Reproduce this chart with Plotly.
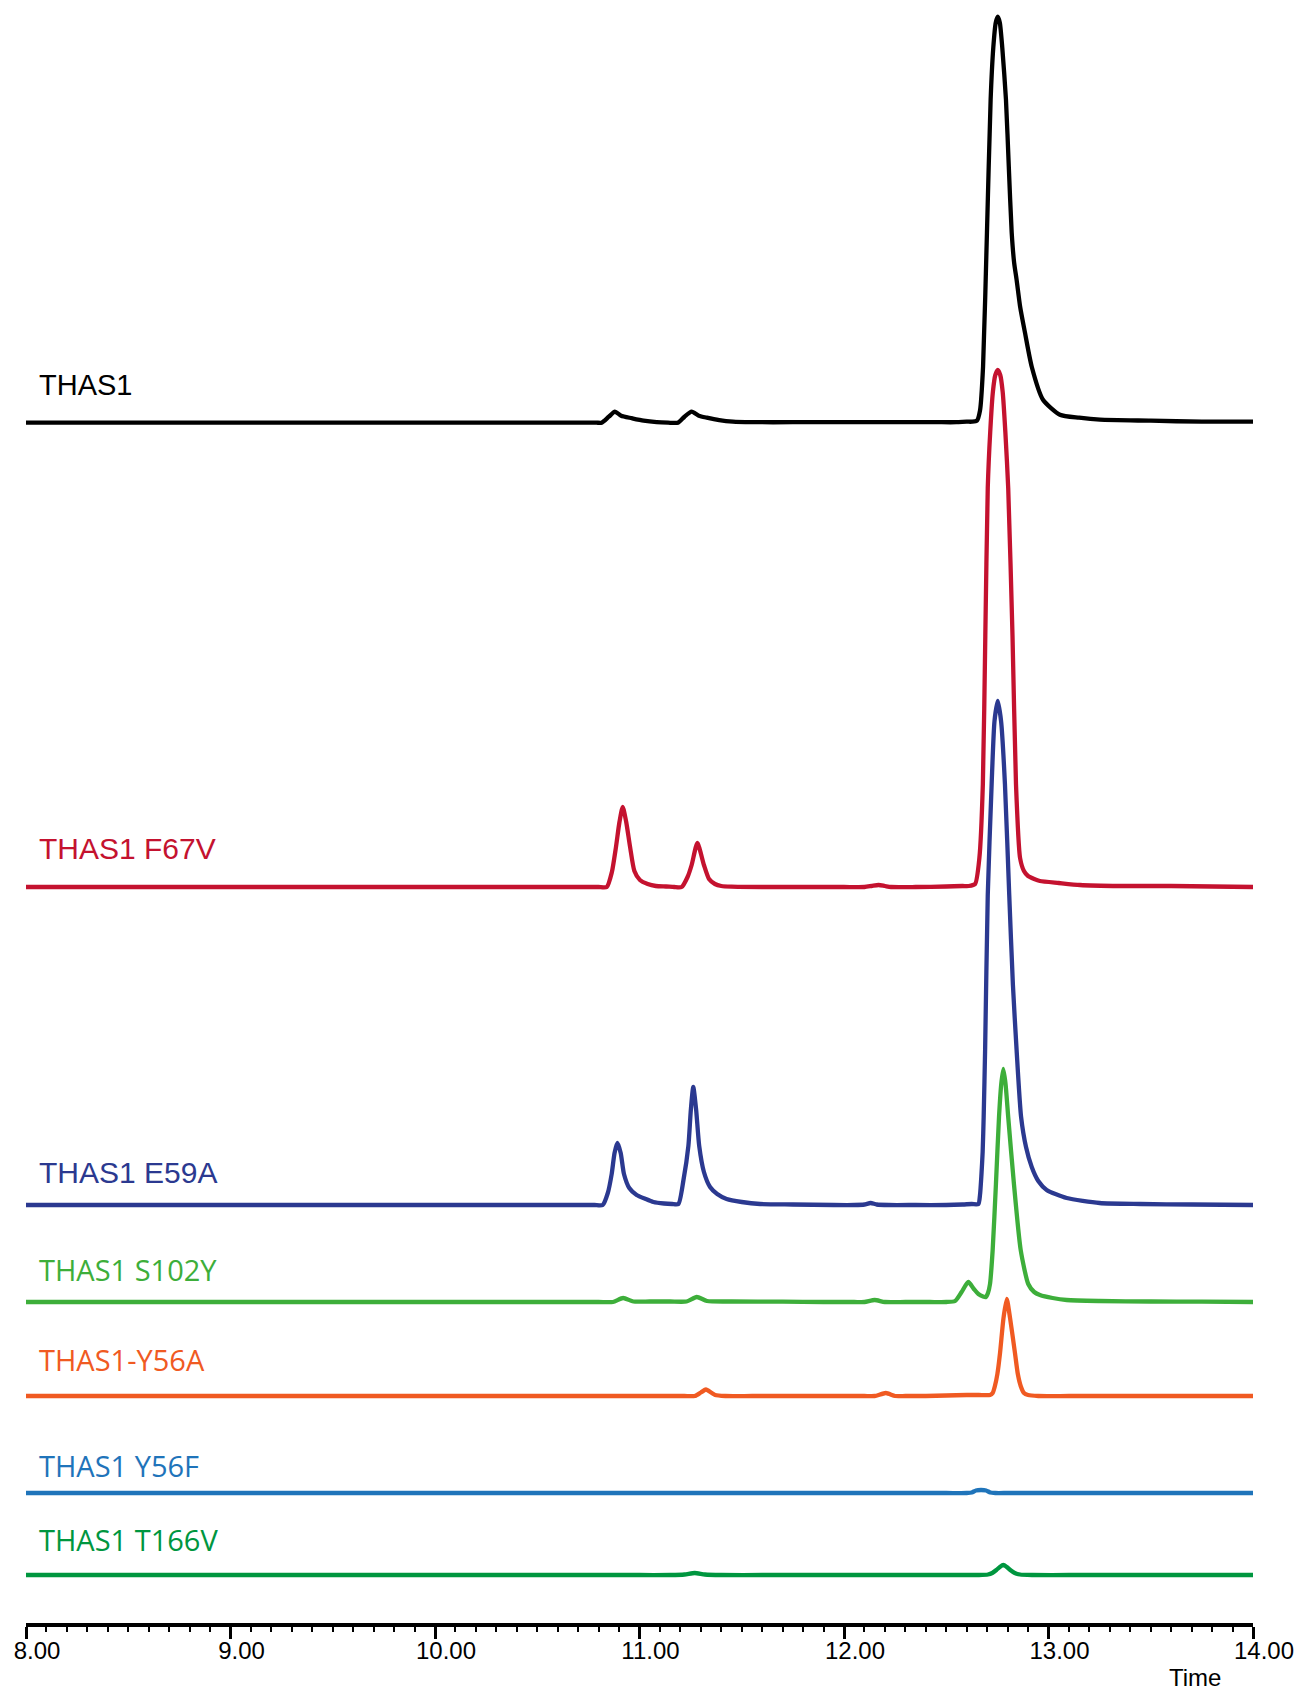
import plotly.graph_objects as go

# ---------------- data ----------------
names = ["THAS1", "THAS1 F67V", "THAS1 E59A", "THAS1 S102Y", "THAS1-Y56A", "THAS1 Y56F", "THAS1 T166V"]

thas1_t = [8.00, 8.50, 9.00, 9.50, 10.00, 10.50, 10.75, 10.79, 10.815, 10.85, 10.88, 10.91, 10.962, 11.02,
           11.084, 11.14, 11.188, 11.22, 11.255, 11.29, 11.329, 11.39, 11.457, 11.55, 11.75, 12.00, 12.25,
           12.45, 12.55, 12.60, 12.625, 12.650, 12.665, 12.680, 12.699, 12.717, 12.730, 12.742, 12.752,
           12.762, 12.774, 12.792, 12.806, 12.820, 12.832, 12.844, 12.862, 12.885, 12.918, 12.973, 13.056,
           13.15, 13.252, 13.50, 13.75, 14.00]
thas1_h = [0, 0, 0, 0, 0, 0, 0, 0, 0, 6, 11, 7, 4.5, 2,
           0.5, 0, 0, 6, 11, 7, 5, 2.5, 1, 0.5, 0.5, 0.5, 0.5,
           0.5, 0.5, 1, 1, 2, 12, 56, 190, 323, 375, 400, 406,
           400, 375, 323, 255, 190, 160, 143, 115, 90, 56, 23, 8,
           5, 3, 2, 1, 1]

f67v_t = [8.00, 8.50, 9.00, 9.50, 10.00, 10.50, 10.75, 10.80, 10.84, 10.865, 10.885, 10.902, 10.918, 10.935,
          10.954, 10.975, 11.002, 11.04, 11.08, 11.13, 11.17, 11.206, 11.235, 11.255, 11.283, 11.315, 11.34,
          11.369, 11.40, 11.45, 11.60, 11.80, 12.00, 12.10, 12.135, 12.169, 12.20, 12.23, 12.35, 12.50, 12.58,
          12.61, 12.641, 12.662, 12.679, 12.691, 12.703, 12.715, 12.728, 12.740, 12.752, 12.764, 12.776,
          12.789, 12.803, 12.824, 12.841, 12.861, 12.880, 12.900, 12.930, 12.958, 13.05, 13.154, 13.35,
          13.60, 13.80, 14.00]
f67v_h = [0, 0, 0, 0, 0, 0, 0, 0, 0, 15, 40, 65, 80, 65,
          40, 16, 7, 3, 1, 0.5, 0, 0, 10, 22, 44, 22, 8,
          3, 1, 0.3, 0, 0, 0, 0, 1, 2, 1, 0, 0, 0.5, 1,
          1, 3, 29, 103, 251, 399, 455, 495, 512, 517, 512, 495,
          455, 399, 251, 103, 29, 16, 11, 8, 6, 4, 2, 1,
          1, 0.5, 0]

e59a_t = [8.00, 8.50, 9.00, 9.50, 10.00, 10.50, 10.72, 10.78, 10.82, 10.845, 10.864, 10.878, 10.892, 10.908,
          10.924, 10.95, 10.986, 11.03, 11.068, 11.12, 11.16, 11.19, 11.215, 11.239, 11.251, 11.263, 11.277,
          11.292, 11.315, 11.345, 11.38, 11.426, 11.50, 11.59, 11.75, 11.95, 12.05, 12.10, 12.13, 12.16,
          12.22, 12.35, 12.50, 12.58, 12.625, 12.657, 12.665, 12.672, 12.678, 12.683, 12.690, 12.703, 12.722,
          12.736, 12.752, 12.768, 12.787, 12.808, 12.826, 12.844, 12.866, 12.890, 12.918, 12.950, 12.991,
          13.089, 13.25, 13.45, 13.70, 14.00]
e59a_h = [0, 0, 0, 0, 0, 0, 0, 0, 0, 12, 31, 52, 62, 52,
          31, 17, 10, 6, 3, 1.5, 1, 1, 25, 59, 95, 118, 95,
          59, 33, 18, 11, 6, 3, 1, 0.5, 0, 0, 0.5, 2, 0.5,
          0, 0, 0, 0.5, 1, 1, 10, 30, 53, 88, 155, 310, 421,
          484, 504, 484, 421, 310, 220, 155, 88, 58, 38, 24, 15,
          7, 2, 1, 0.5, 0]

s102y_t = [7.98, 8.50, 9.00, 9.50, 10.00, 10.50, 10.80, 10.87, 10.92, 10.97, 11.05, 11.15, 11.23, 11.28,
           11.33, 11.45, 11.70, 11.90, 12.05, 12.10, 12.15, 12.20, 12.30, 12.42, 12.50, 12.543, 12.575,
           12.608, 12.635, 12.657, 12.680, 12.694, 12.704, 12.714, 12.727, 12.743, 12.758, 12.769, 12.779,
           12.790, 12.803, 12.831, 12.864, 12.901, 12.930, 12.958, 13.02, 13.089, 13.25, 13.50, 13.75, 14.00]
s102y_h = [0, 0, 0, 0, 0, 0, 0, 0, 4, 0.5, 0.5, 0.5, 0.5, 5,
           1, 0.5, 0.3, 0, 0, 0, 2, 0, 0, 0, 0, 1, 10,
           20, 13, 8, 5.5, 5, 9, 18, 52, 118, 185, 218, 233,
           218, 185, 118, 52, 18, 10, 7, 4, 2, 1, 0.5, 0.3, 0]

y56a_t = [8.00, 8.50, 9.00, 9.50, 10.00, 10.50, 11.00, 11.15, 11.22, 11.27, 11.30, 11.325, 11.35, 11.37,
          11.42, 11.55, 11.80, 12.00, 12.10, 12.15, 12.205, 12.25, 12.30, 12.40, 12.50, 12.60, 12.66, 12.714,
          12.727, 12.738, 12.750, 12.763, 12.780, 12.796, 12.812, 12.836, 12.850, 12.864, 12.880, 12.900,
          12.95, 13.10, 13.40, 13.70, 14.04]
y56a_h = [0, 0, 0, 0, 0, 0, 0, 0, 0, 0, 3.5, 6.5, 3.5, 1,
          0, 0, 0, 0, 0, 0, 3, 0, 0, 0, 0.5, 1, 1, 1,
          3, 10, 22, 43, 78, 97, 78, 43, 22, 10, 3, 1,
          0, 0, 0, 0, 0]

y56f_t = [8.00, 8.50, 9.00, 9.50, 10.00, 10.50, 11.00, 11.50, 12.00, 12.50, 12.60, 12.625, 12.645, 12.67,
          12.695, 12.715, 12.74, 12.80, 13.00, 13.50, 14.00]
y56f_h = [0, 0, 0, 0, 0, 0, 0, 0, 0, 0, 0, 0.5, 2.5, 3,
          2.5, 0.5, 0, 0, 0, 0, 0]

t166v_t = [8.00, 8.50, 9.00, 9.50, 10.00, 10.50, 11.00, 11.15, 11.22, 11.27, 11.32, 11.40, 11.60, 12.00,
           12.40, 12.60, 12.66, 12.704, 12.725, 12.745, 12.762, 12.779, 12.796, 12.813, 12.835, 12.861, 12.92,
           13.10, 13.50, 14.00]
t166v_h = [0, 0, 0, 0, 0, 0, 0, 0, 0.5, 2, 0.5, 0, 0, 0,
           0, 0, 0, 0.5, 2, 5, 8, 10, 8, 5, 2, 0.5, 0,
           0, 0, 0]

tick_vals = [8, 9, 10, 11, 12, 13, 14]
tick_text = ["8.00", "9.00", "10.00", "11.00", "12.00", "13.00", "14.00"]

# ---------------- layout / style ----------------
offsets = [1200.3, 736, 418, 321, 227, 130, 48]
colors = ["#000000", "#C4122F", "#2B3990", "#3DAE3A", "#F05A22", "#1F74BA", "#00963F"]
label_y = [1238, 775, 451, 354, 264, 158, 84]
label_font = ["Liberation Sans", "Liberation Sans", "Liberation Sans", "Open Sans", "Open Sans", "Open Sans", "Open Sans"]
label_size = [29, 30, 30, 29, 29, 29, 29]

series = [(thas1_t, thas1_h), (f67v_t, f67v_h), (e59a_t, e59a_h), (s102y_t, s102y_h),
          (y56a_t, y56a_h), (y56f_t, y56f_h), (t166v_t, t166v_h)]
for t, h in series:
    assert len(t) == len(h), (len(t), len(h))

fig = go.Figure()
for (t, h), off, col, nm in zip(series, offsets, colors, names):
    fig.add_trace(go.Scatter(
        x=t, y=[off + v for v in h], mode="lines", name=nm,
        line=dict(color=col, width=4.3, shape="spline", smoothing=0.6),
        showlegend=False, cliponaxis=False,
    ))

for nm, ly, col, fnt, fs in zip(names, label_y, colors, label_font, label_size):
    fig.add_annotation(x=8.055, y=ly, xref="x", yref="y", text=nm, showarrow=False,
                       xanchor="left", yanchor="middle",
                       font=dict(family=fnt, size=fs, color=col))

fig.add_annotation(x=13.716, y=-54 / 1623, xref="x", yref="paper", text="Time", showarrow=False,
                   xanchor="center", yanchor="middle",
                   font=dict(family="Liberation Sans", size=24, color="black"))

fig.update_layout(
    width=1313, height=1690,
    margin=dict(l=26, r=60, t=0, b=67),
    plot_bgcolor="white", paper_bgcolor="white",
    xaxis=dict(range=[8, 14], showgrid=False, zeroline=False,
               showline=True, linecolor="black", linewidth=4,
               ticks="outside", ticklen=12, tickwidth=3, tickcolor="black",
               tickvals=tick_vals, ticktext=tick_text,
               ticklabelshift=11, ticklabelstandoff=-9,
               tickfont=dict(family="Liberation Sans", size=24, color="black"),
               minor=dict(dtick=0.1, ticks="outside", ticklen=5, tickwidth=2, tickcolor="black", showgrid=False)),
    yaxis=dict(range=[0, 1623], visible=False, showgrid=False, zeroline=False, fixedrange=True),
)

fig.write_html("out.html")
